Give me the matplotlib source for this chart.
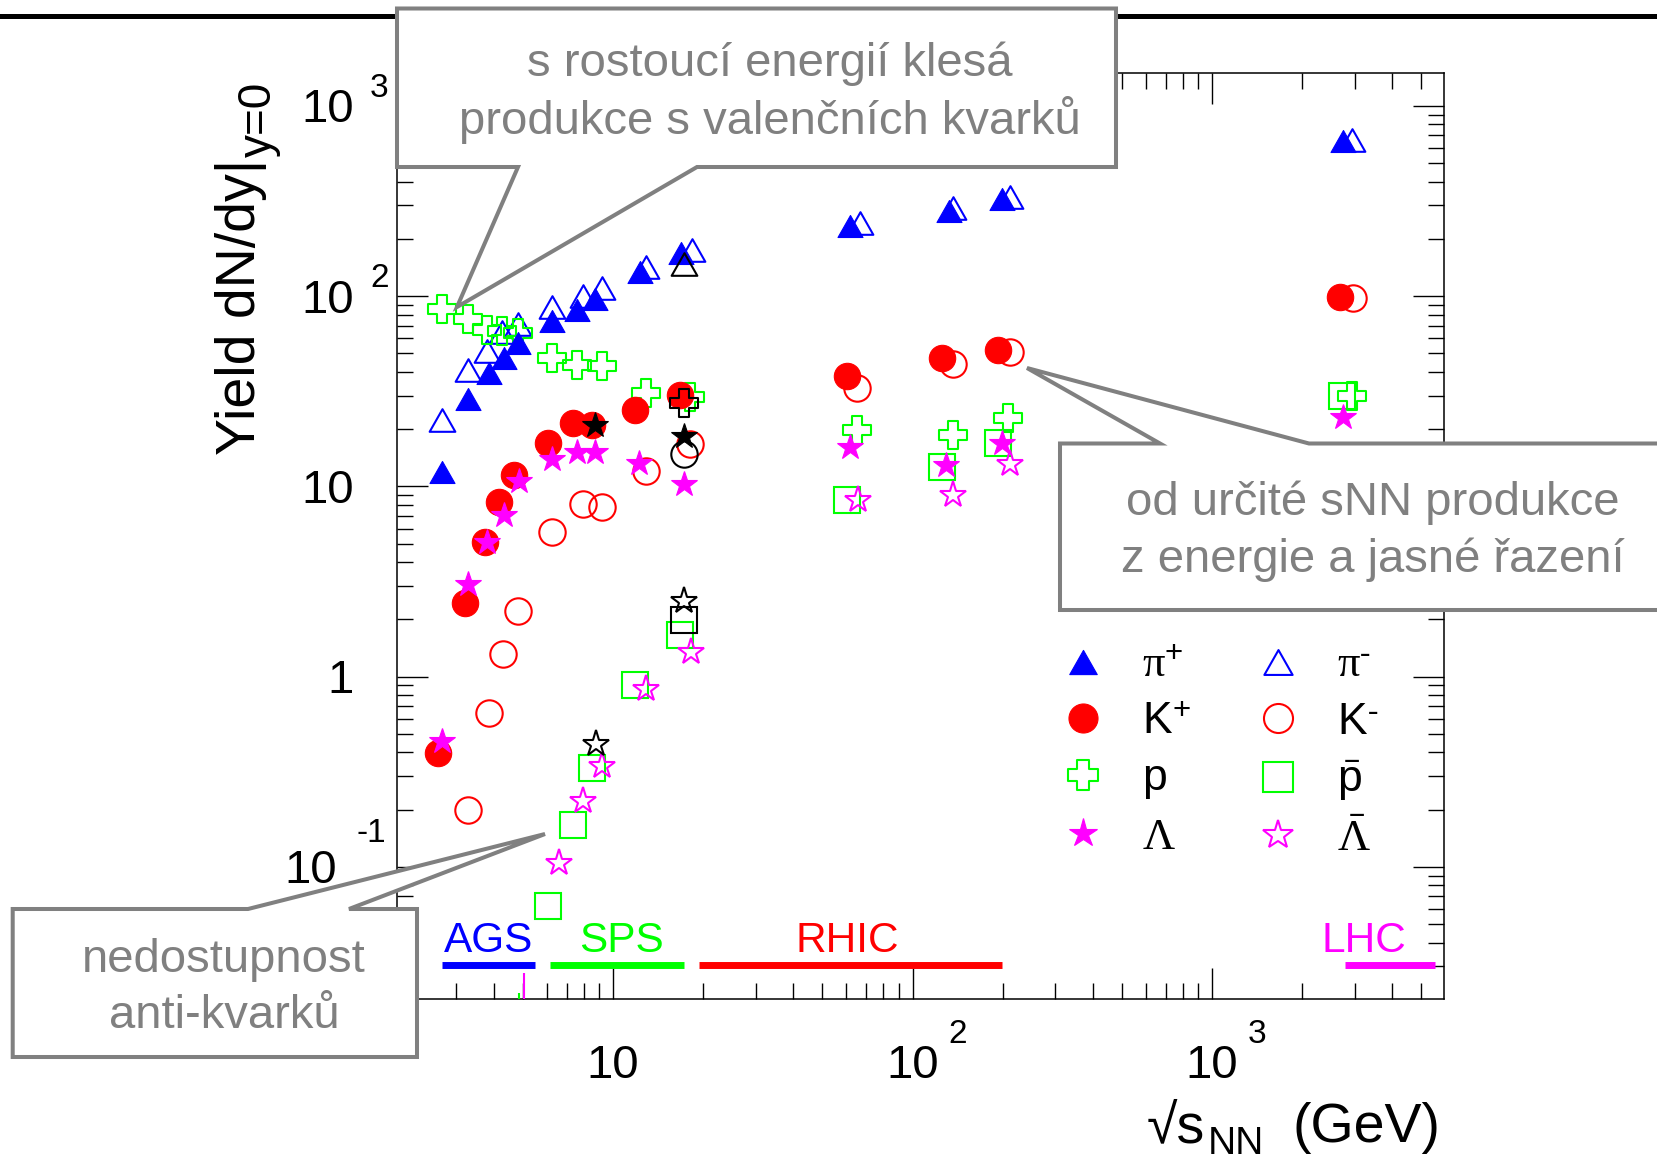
import matplotlib
matplotlib.use("Agg")
import matplotlib.pyplot as plt
from matplotlib.path import Path
from matplotlib.patches import Polygon
from matplotlib.lines import Line2D

plt.rcParams['font.family'] = ['Liberation Sans', 'DejaVu Sans']
plt.rcParams['mathtext.fontset'] = 'custom'
plt.rcParams['mathtext.rm'] = 'Liberation Serif'
plt.rcParams['mathtext.sf'] = 'Liberation Sans'
plt.rcParams['mathtext.it'] = 'Liberation Serif:italic'
plt.rcParams['mathtext.bf'] = 'Liberation Serif:bold'

W, H, DPI = 1657, 1161, 100

# ---- mid-rapidity yields vs. collision energy ----
pip_x = [2.68, 3.29, 3.84, 4.31, 4.83, 6.24, 7.57, 8.71, 12.3, 16.9, 61.8, 131.9, 198.6, 2742]
pip_y = [11.9, 28.7, 39.6, 47.5, 56.6, 74.1, 84.7, 97.1, 133.7, 168, 235, 282, 324, 655]

pim_x = [2.68, 3.29, 3.79, 4.25, 4.83, 6.24, 7.96, 9.17, 12.9, 18.3, 66.8, 136.8, 211.8, 2925]
pim_y = [22.4, 41.0, 51.2, 65.1, 71.4, 88.1, 100.6, 110, 143, 175, 242, 290, 331, 660]

kp_x = [2.61, 3.21, 3.74, 4.17, 4.68, 6.08, 7.33, 8.49, 11.8, 16.7, 60.3, 125.6, 193.6, 2673]
kp_y = [0.396, 2.45, 5.09, 8.30, 11.5, 16.9, 21.6, 21.0, 25.2, 30.3, 38.1, 47.5, 52.1, 98.7]

km_x = [3.29, 3.84, 4.29, 4.83, 6.24, 7.96, 9.17, 12.9, 18.1, 65.2, 136.8, 211.8, 2951]
km_y = [0.1995, 0.643, 1.32, 2.22, 5.74, 8.09, 7.84, 12.0, 16.7, 32.8, 44.0, 50.7, 97.9]

p_x = [2.68, 3.29, 3.79, 4.25, 4.83, 6.24, 7.57, 9.17, 12.9, 18.1, 65.5, 136.8, 209, 2925]
p_y = [85.3, 75.6, 66.6, 65.9, 63.8, 47.2, 43.5, 42.7, 30.9, 29.6, 19.8, 18.7, 22.8, 30.0]

pbar_x = [6.08, 7.36, 8.53, 11.8, 16.7, 60.3, 125.6, 193.6, 2722]
pbar_y = [0.0624, 0.165, 0.330, 0.906, 1.66, 8.49, 12.6, 17.0, 30.0]

lam_x = [2.68, 3.29, 3.79, 4.31, 4.86, 6.27, 7.57, 8.71, 12.2, 17.3, 61.8, 129, 198.6, 2742]
lam_y = [0.459, 3.08, 5.09, 7.08, 10.7, 14.0, 15.1, 15.1, 13.3, 10.3, 16.2, 13.0, 17.0, 23.3]

lbar_x = [6.61, 7.96, 9.17, 12.9, 18.2, 65.9, 136.8, 211.8]
lbar_y = [0.1054, 0.222, 0.340, 0.859, 1.34, 8.49, 9.02, 13.1]

# second data set at SPS energies (black)
blk_pim_x, blk_pim_y = [17.2], [148]
blk_km_x, blk_km_y = [17.2], [14.8]
blk_lam_x, blk_lam_y = [8.71, 17.2], [21.0, 18.4]
blk_p_x, blk_p_y = [17.3], [27.4]
blk_pbar_x, blk_pbar_y = [17.3], [1.99]
blk_lbar_x, blk_lbar_y = [8.75, 17.3], [0.443, 2.50]

# error bars of points lying below the plotted range
low_err_x = [4.85, 5.05]
low_err_top = [0.0218, 0.0277]
low_err_colors = ['#00ff00', '#ff00ff']

# accelerator energy ranges
fac_names = ['AGS', 'SPS', 'RHIC', 'LHC']
fac_lo = [2.69, 6.17, 19.4, 2780]
fac_hi = [5.49, 17.3, 199, 5560]
fac_label_x = [3.83, 10.7, 60.4, 3214]
fac_colors = ['#0000ff', '#00ff00', '#ff0000', '#ff00ff']
fac_bar_y = 0.0305
fac_text_y = 0.0357

# axis tick labels (ROOT style: mantissa + raised exponent)
y_tick_vals = [0.1, 1, 10, 100, 1000]
y_tick_main = ['10', '1', '10', '10', '10']
y_tick_exp = ['-1', '', '', '2', '3']
x_tick_vals = [10, 100, 1000]
x_tick_main = ['10', '10', '10']
x_tick_exp = ['', '2', '3']

legend_labels = [r'$\mathrm{\pi}^{\mathsf{+}}$', r'$\mathsf{K}^{\mathsf{+}}$', r'$\mathsf{p}$',
                 r'$\mathrm{\Lambda}$',
                 r'$\mathrm{\pi}^{\text{-}}$', r'$\mathsf{K}^{\text{-}}$',
                 r'$\bar{\mathsf{p}}$', r'$\bar{\mathrm{\Lambda}}$']

BLUE, RED, GREEN, MAG = '#0000ff', '#ff0000', '#00ff00', '#ff00ff'

TRI = Path([(-1, -0.88), (1, -0.88), (0, 0.88), (-1, -0.88)], closed=True)
a = 0.38
CROSS = Path([(-a, 1), (a, 1), (a, a), (1, a), (1, -a), (a, -a), (a, -1), (-a, -1),
              (-a, -a), (-1, -a), (-1, a), (-a, a), (-a, 1)], closed=True)

fig = plt.figure(figsize=(W / DPI, H / DPI), dpi=DPI)
ax = fig.add_axes([397 / W, 1 - 999 / H, (1444 - 397) / W, (999 - 73) / H])
ax.set_xscale('log')
ax.set_yscale('log')
ax.set_xlim(1.90, 5950)
ax.set_ylim(0.0202, 1490)

for s in ax.spines.values():
    s.set_linewidth(1.1)
ax.tick_params(which='both', direction='in', top=True, right=True,
               labelleft=False, labelbottom=False, width=1.0, color='black')
ax.tick_params(which='major', length=22)
ax.tick_params(which='minor', length=11.5)


def series(x, y, marker, color, filled, ms, z=3):
    line, = ax.plot(x, y, ls='none', marker=marker, ms=ms,
                    mfc=color if filled else 'none', mec=color,
                    mew=0.8 if filled else 1.5, zorder=z)
    return line


# open markers underneath, filled on top
h_pim = series(pim_x, pim_y, TRI, BLUE, False, 18.5)
h_km = series(km_x, km_y, 'o', RED, False, 19)
h_p = series(p_x, p_y, CROSS, GREEN, False, 19.5)
h_pbar = series(pbar_x, pbar_y, 's', GREEN, False, 19)
h_lbar = series(lbar_x, lbar_y, '*', MAG, False, 20)
h_pip = series(pip_x, pip_y, TRI, BLUE, True, 18)
h_kp = series(kp_x, kp_y, 'o', RED, True, 19)
h_lam = series(lam_x, lam_y, '*', MAG, True, 19)

series(blk_pim_x, blk_pim_y, TRI, 'black', False, 18.5, 4)
series(blk_km_x, blk_km_y, 'o', 'black', False, 19, 4)
series(blk_lam_x, blk_lam_y, '*', 'black', True, 19, 4)
series(blk_p_x, blk_p_y, CROSS, 'black', False, 19.5, 4)
series(blk_pbar_x, blk_pbar_y, 's', 'black', False, 19, 4)
series(blk_lbar_x, blk_lbar_y, '*', 'black', False, 20, 4)

ax.vlines(low_err_x, ax.get_ylim()[0], low_err_top, colors=low_err_colors, lw=1.5, zorder=3)

# accelerator ranges
for name, lo, hi, lx, c in zip(fac_names, fac_lo, fac_hi, fac_label_x, fac_colors):
    ax.plot([lo, hi], [fac_bar_y, fac_bar_y], color=c, lw=5, solid_capstyle='butt', zorder=2)
    ax.text(lx, fac_text_y, name, color=c, fontsize=30.5, ha='center', va='baseline', zorder=2)

# tick labels
PT = 0.72
for v, m, e in zip(y_tick_vals, y_tick_main, y_tick_exp):
    neg = e.startswith('-')
    ax.annotate(m, xy=(0, v), xycoords=('axes fraction', 'data'),
                xytext=((-60 if neg else -43) * PT, -16.5 * PT), textcoords='offset points',
                ha='right', va='baseline', fontsize=34)
    if e:
        ax.annotate(e, xy=(0, v), xycoords=('axes fraction', 'data'),
                    xytext=((-41 if neg else -27) * PT, (25 if neg else 9) * PT),
                    textcoords='offset points', ha='left', va='baseline', fontsize=24)
for v, m, e in zip(x_tick_vals, x_tick_main, x_tick_exp):
    ax.annotate(m, xy=(v, 0), xycoords=('data', 'axes fraction'),
                xytext=(0, -79 * PT), textcoords='offset points',
                ha='center', va='baseline', fontsize=34)
    if e:
        ax.annotate(e, xy=(v, 0), xycoords=('data', 'axes fraction'),
                    xytext=(35.5 * PT, -44 * PT), textcoords='offset points',
                    ha='left', va='baseline', fontsize=24)


def ftext(px, py, s, **kw):
    return fig.text(px / W, 1 - py / H, s, **kw)


# axis titles
ftext(1147, 1142, '√s', ha='left', va='baseline', fontsize=40)
ftext(1208, 1154, 'NN', ha='left', va='baseline', fontsize=28)
ftext(1441, 1142, '(GeV)', ha='right', va='baseline', fontsize=40)
ftext(255, 455, 'Yield dN/dy|', rotation=90, rotation_mode='anchor',
      ha='left', va='baseline', fontsize=40)
ftext(271, 157, 'y=0', rotation=90, rotation_mode='anchor',
      ha='left', va='baseline', fontsize=33)

# legend
handles = [h_pip, h_kp, h_p, h_lam, h_pim, h_km, h_pbar, h_lbar]
leg = ax.legend(handles, legend_labels, ncol=2, loc='upper left',
                bbox_to_anchor=(0.634, 0.382), frameon=False, fontsize=32,
                handlelength=1.0, handletextpad=0.82, columnspacing=1.48,
                labelspacing=0.35, borderpad=0, borderaxespad=0, numpoints=1,
                markerscale=1.1)

# header rule
fig.add_artist(Line2D([0, 1], [1 - 16 / H] * 2, transform=fig.transFigure,
                      color='black', lw=3.6, zorder=1))


def callout(points):
    verts = [(px / W, 1 - py / H) for px, py in points]
    fig.add_artist(Polygon(verts, closed=True, transform=fig.transFigure,
                           facecolor='white', edgecolor='#808080', lw=2.9,
                           joinstyle='miter', zorder=5))


def note(px, py, s):
    ftext(px, py, s, ha='center', va='baseline', fontsize=34, color='#808080', zorder=6)


callout([(397, 8.5), (1116, 8.5), (1116, 167), (697, 167), (457, 307),
         (518, 167), (397, 167)])
note(770, 76, 's rostoucí energií klesá')
note(770, 134, 'produkce s valenčních kvarků')

callout([(1060, 443.5), (1160, 443.5), (1027, 368), (1309, 443.5), (1720, 443.5),
         (1720, 610), (1060, 610)])
note(1373, 515, 'od určité sNN produkce')
note(1373, 572, 'z energie a jasné řazení')

callout([(12.7, 909), (248, 909), (545, 834), (349, 909), (417, 909), (417, 1057),
         (12.7, 1057)])
note(224, 972, 'nedostupnost')
note(224, 1028, 'anti-kvarků')

fig.savefig('out.png', dpi=DPI)
